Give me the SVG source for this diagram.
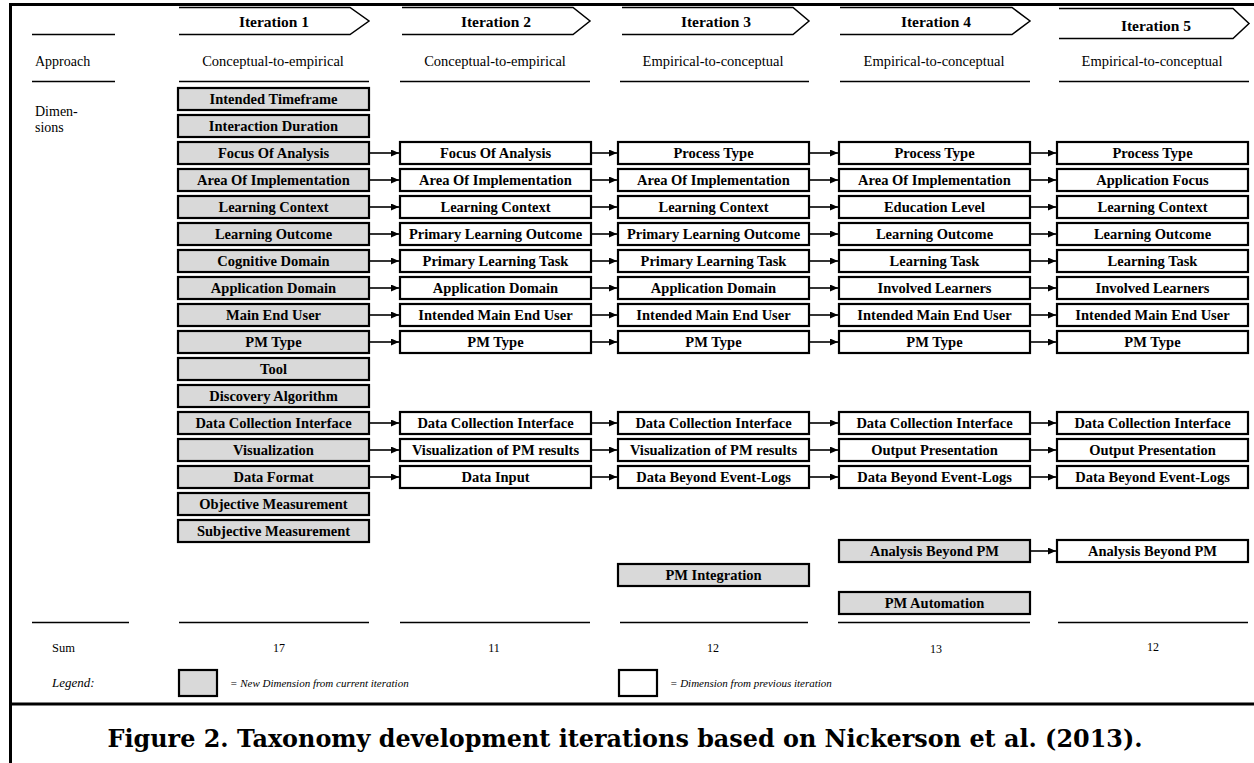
<svg xmlns="http://www.w3.org/2000/svg" width="1254" height="763" viewBox="0 0 1254 763">
<style>
.bx{stroke:#000;stroke-width:2.2}
.g{fill:#d9d9d9}
.w{fill:#fff}
.lb{font-family:"Liberation Serif",serif;font-weight:bold;font-size:14.5px;text-anchor:middle;fill:#000}
.it{font-family:"Liberation Serif",serif;font-weight:bold;font-size:15.5px;text-anchor:middle;fill:#000}
.ap{font-family:"Liberation Serif",serif;font-size:14.5px;text-anchor:middle;fill:#000}
.sd{font-family:"Liberation Serif",serif;font-size:14px;fill:#000}
.sm{font-family:"Liberation Serif",serif;font-size:12px;text-anchor:middle;fill:#000}
.lg{font-family:"Liberation Serif",serif;font-style:italic;font-size:11px;fill:#000}
.cap{font-family:"DejaVu Serif",serif;font-weight:bold;font-size:24px;text-anchor:middle;fill:#000}
.hd{fill:none;stroke:#000;stroke-width:1.5}
.rl{stroke:#000;stroke-width:1.3}
.fr{stroke:#000;stroke-width:3}
.cn{stroke:#000;stroke-width:1.6;fill:none}
</style>
<defs>
<marker id="ah" markerUnits="userSpaceOnUse" markerWidth="9" markerHeight="8" refX="8" refY="3.5" orient="auto">
<path d="M0,0 L8,3.5 L0,7 z" fill="#000"/>
</marker>
</defs>
<rect x="0" y="0" width="1254" height="763" fill="#fff"/>
<g id="frame">
<line class="fr" x1="9" y1="4.5" x2="1254" y2="4.5"/>
<line class="fr" x1="10.5" y1="3" x2="10.5" y2="763"/>
<line class="fr" x1="9" y1="704" x2="1254" y2="704"/>
</g>
<g id="headers">
<polyline class="hd" points="179,7.5 350,7.5 369,21 350,34.5 179,34.5"/>
<text class="it" x="274" y="27">Iteration 1</text>
<polyline class="hd" points="402,7.5 573,7.5 590,21 573,34.5 402,34.5"/>
<text class="it" x="496" y="27">Iteration 2</text>
<polyline class="hd" points="622,7.5 793,7.5 809,21 793,34.5 622,34.5"/>
<text class="it" x="716" y="27">Iteration 3</text>
<polyline class="hd" points="840,7.5 1012,7.5 1030,21 1012,34.5 840,34.5"/>
<text class="it" x="936" y="27">Iteration 4</text>
<polyline class="hd" points="1059,8.5 1233,8.5 1249,23.5 1233,38.5 1059,38.5"/>
<text class="it" x="1156" y="31">Iteration 5</text>
</g>
<g id="rules">
<line class="rl" x1="32" y1="34.5" x2="115" y2="34.5"/>
<line class="rl" x1="32" y1="81.5" x2="115" y2="81.5"/>
<line class="rl" x1="179" y1="81.5" x2="369" y2="81.5"/>
<line class="rl" x1="400" y1="81.5" x2="590" y2="81.5"/>
<line class="rl" x1="620" y1="81.5" x2="809" y2="81.5"/>
<line class="rl" x1="840" y1="81.5" x2="1030" y2="81.5"/>
<line class="rl" x1="1059" y1="81.5" x2="1249" y2="81.5"/>
<line class="rl" x1="32" y1="622.5" x2="129" y2="622.5"/>
<line class="rl" x1="179" y1="622.5" x2="369" y2="622.5"/>
<line class="rl" x1="400" y1="622.5" x2="590" y2="622.5"/>
<line class="rl" x1="620" y1="622.5" x2="808" y2="622.5"/>
<line class="rl" x1="838" y1="622.5" x2="1030" y2="622.5"/>
<line class="rl" x1="1058" y1="622.5" x2="1248" y2="622.5"/>
</g>
<g id="row-labels">
<text class="sd" x="35" y="66">Approach</text>
<text class="ap" x="273" y="66">Conceptual-to-empirical</text>
<text class="ap" x="495" y="66">Conceptual-to-empirical</text>
<text class="ap" x="713" y="66">Empirical-to-conceptual</text>
<text class="ap" x="934" y="66">Empirical-to-conceptual</text>
<text class="ap" x="1152" y="66">Empirical-to-conceptual</text>
<text class="sd" x="35" y="116">Dimen-</text>
<text class="sd" x="35" y="132">sions</text>
<text class="sd" x="52" y="652" style="font-size:12.5px">Sum</text>
<text class="sm" x="279" y="652">17</text>
<text class="sm" x="494" y="652">11</text>
<text class="sm" x="713" y="652">12</text>
<text class="sm" x="936" y="653">13</text>
<text class="sm" x="1153" y="651">12</text>
</g>
<g id="col1">
<g id="c1-intended-timeframe"><rect class="bx g" x="178" y="88" width="191" height="22"/><text class="lb" x="273.5" y="104">Intended Timeframe</text></g>
<g id="c1-interaction-duration"><rect class="bx g" x="178" y="115" width="191" height="22"/><text class="lb" x="273.5" y="131">Interaction Duration</text></g>
<g id="c1-focus"><rect class="bx g" x="178" y="142" width="191" height="22"/><text class="lb" x="273.5" y="158">Focus Of Analysis</text></g>
<g id="c1-area"><rect class="bx g" x="178" y="169" width="191" height="22"/><text class="lb" x="273.5" y="185">Area Of Implementation</text></g>
<g id="c1-context"><rect class="bx g" x="178" y="196" width="191" height="22"/><text class="lb" x="273.5" y="212">Learning Context</text></g>
<g id="c1-outcome"><rect class="bx g" x="178" y="223" width="191" height="22"/><text class="lb" x="273.5" y="239">Learning Outcome</text></g>
<g id="c1-cognitive"><rect class="bx g" x="178" y="250" width="191" height="22"/><text class="lb" x="273.5" y="266">Cognitive Domain</text></g>
<g id="c1-appdomain"><rect class="bx g" x="178" y="277" width="191" height="22"/><text class="lb" x="273.5" y="293">Application Domain</text></g>
<g id="c1-enduser"><rect class="bx g" x="178" y="304" width="191" height="22"/><text class="lb" x="273.5" y="320">Main End User</text></g>
<g id="c1-pmtype"><rect class="bx g" x="178" y="331" width="191" height="22"/><text class="lb" x="273.5" y="347">PM Type</text></g>
<g id="c1-tool"><rect class="bx g" x="178" y="358" width="191" height="22"/><text class="lb" x="273.5" y="374">Tool</text></g>
<g id="c1-discovery"><rect class="bx g" x="178" y="385" width="191" height="22"/><text class="lb" x="273.5" y="401">Discovery Algorithm</text></g>
<g id="c1-dci"><rect class="bx g" x="178" y="412" width="191" height="22"/><text class="lb" x="273.5" y="428">Data Collection Interface</text></g>
<g id="c1-vis"><rect class="bx g" x="178" y="439" width="191" height="22"/><text class="lb" x="273.5" y="455">Visualization</text></g>
<g id="c1-format"><rect class="bx g" x="178" y="466" width="191" height="22"/><text class="lb" x="273.5" y="482">Data Format</text></g>
<g id="c1-objective"><rect class="bx g" x="178" y="493" width="191" height="22"/><text class="lb" x="273.5" y="509">Objective Measurement</text></g>
<g id="c1-subjective"><rect class="bx g" x="178" y="520" width="191" height="22"/><text class="lb" x="273.5" y="536">Subjective Measurement</text></g>
</g>
<g id="col2">
<g id="c2-focus"><rect class="bx w" x="400" y="142" width="191" height="22"/><text class="lb" x="495.5" y="158">Focus Of Analysis</text></g>
<g id="c2-area"><rect class="bx w" x="400" y="169" width="191" height="22"/><text class="lb" x="495.5" y="185">Area Of Implementation</text></g>
<g id="c2-context"><rect class="bx w" x="400" y="196" width="191" height="22"/><text class="lb" x="495.5" y="212">Learning Context</text></g>
<g id="c2-outcome"><rect class="bx w" x="400" y="223" width="191" height="22"/><text class="lb" x="495.5" y="239">Primary Learning Outcome</text></g>
<g id="c2-task"><rect class="bx w" x="400" y="250" width="191" height="22"/><text class="lb" x="495.5" y="266">Primary Learning Task</text></g>
<g id="c2-appdomain"><rect class="bx w" x="400" y="277" width="191" height="22"/><text class="lb" x="495.5" y="293">Application Domain</text></g>
<g id="c2-enduser"><rect class="bx w" x="400" y="304" width="191" height="22"/><text class="lb" x="495.5" y="320">Intended Main End User</text></g>
<g id="c2-pmtype"><rect class="bx w" x="400" y="331" width="191" height="22"/><text class="lb" x="495.5" y="347">PM Type</text></g>
<g id="c2-dci"><rect class="bx w" x="400" y="412" width="191" height="22"/><text class="lb" x="495.5" y="428">Data Collection Interface</text></g>
<g id="c2-vis"><rect class="bx w" x="400" y="439" width="191" height="22"/><text class="lb" x="495.5" y="455">Visualization of PM results</text></g>
<g id="c2-input"><rect class="bx w" x="400" y="466" width="191" height="22"/><text class="lb" x="495.5" y="482">Data Input</text></g>
</g>
<g id="col3">
<g id="c3-process"><rect class="bx w" x="618" y="142" width="191" height="22"/><text class="lb" x="713.5" y="158">Process Type</text></g>
<g id="c3-area"><rect class="bx w" x="618" y="169" width="191" height="22"/><text class="lb" x="713.5" y="185">Area Of Implementation</text></g>
<g id="c3-context"><rect class="bx w" x="618" y="196" width="191" height="22"/><text class="lb" x="713.5" y="212">Learning Context</text></g>
<g id="c3-outcome"><rect class="bx w" x="618" y="223" width="191" height="22"/><text class="lb" x="713.5" y="239">Primary Learning Outcome</text></g>
<g id="c3-task"><rect class="bx w" x="618" y="250" width="191" height="22"/><text class="lb" x="713.5" y="266">Primary Learning Task</text></g>
<g id="c3-appdomain"><rect class="bx w" x="618" y="277" width="191" height="22"/><text class="lb" x="713.5" y="293">Application Domain</text></g>
<g id="c3-enduser"><rect class="bx w" x="618" y="304" width="191" height="22"/><text class="lb" x="713.5" y="320">Intended Main End User</text></g>
<g id="c3-pmtype"><rect class="bx w" x="618" y="331" width="191" height="22"/><text class="lb" x="713.5" y="347">PM Type</text></g>
<g id="c3-dci"><rect class="bx w" x="618" y="412" width="191" height="22"/><text class="lb" x="713.5" y="428">Data Collection Interface</text></g>
<g id="c3-vis"><rect class="bx w" x="618" y="439" width="191" height="22"/><text class="lb" x="713.5" y="455">Visualization of PM results</text></g>
<g id="c3-beyond"><rect class="bx w" x="618" y="466" width="191" height="22"/><text class="lb" x="713.5" y="482">Data Beyond Event-Logs</text></g>
<g id="c3-integration"><rect class="bx g" x="618" y="564" width="191" height="22"/><text class="lb" x="713.5" y="580">PM Integration</text></g>
</g>
<g id="col4">
<g id="c4-process"><rect class="bx w" x="839" y="142" width="191" height="22"/><text class="lb" x="934.5" y="158">Process Type</text></g>
<g id="c4-area"><rect class="bx w" x="839" y="169" width="191" height="22"/><text class="lb" x="934.5" y="185">Area Of Implementation</text></g>
<g id="c4-edu"><rect class="bx w" x="839" y="196" width="191" height="22"/><text class="lb" x="934.5" y="212">Education Level</text></g>
<g id="c4-outcome"><rect class="bx w" x="839" y="223" width="191" height="22"/><text class="lb" x="934.5" y="239">Learning Outcome</text></g>
<g id="c4-task"><rect class="bx w" x="839" y="250" width="191" height="22"/><text class="lb" x="934.5" y="266">Learning Task</text></g>
<g id="c4-learners"><rect class="bx w" x="839" y="277" width="191" height="22"/><text class="lb" x="934.5" y="293">Involved Learners</text></g>
<g id="c4-enduser"><rect class="bx w" x="839" y="304" width="191" height="22"/><text class="lb" x="934.5" y="320">Intended Main End User</text></g>
<g id="c4-pmtype"><rect class="bx w" x="839" y="331" width="191" height="22"/><text class="lb" x="934.5" y="347">PM Type</text></g>
<g id="c4-dci"><rect class="bx w" x="839" y="412" width="191" height="22"/><text class="lb" x="934.5" y="428">Data Collection Interface</text></g>
<g id="c4-output"><rect class="bx w" x="839" y="439" width="191" height="22"/><text class="lb" x="934.5" y="455">Output Presentation</text></g>
<g id="c4-beyond"><rect class="bx w" x="839" y="466" width="191" height="22"/><text class="lb" x="934.5" y="482">Data Beyond Event-Logs</text></g>
<g id="c4-analysis"><rect class="bx g" x="839" y="540" width="191" height="22"/><text class="lb" x="934.5" y="556">Analysis Beyond PM</text></g>
<g id="c4-automation"><rect class="bx g" x="839" y="592" width="191" height="22"/><text class="lb" x="934.5" y="608">PM Automation</text></g>
</g>
<g id="col5">
<g id="c5-process"><rect class="bx w" x="1057" y="142" width="191" height="22"/><text class="lb" x="1152.5" y="158">Process Type</text></g>
<g id="c5-appfocus"><rect class="bx w" x="1057" y="169" width="191" height="22"/><text class="lb" x="1152.5" y="185">Application Focus</text></g>
<g id="c5-context"><rect class="bx w" x="1057" y="196" width="191" height="22"/><text class="lb" x="1152.5" y="212">Learning Context</text></g>
<g id="c5-outcome"><rect class="bx w" x="1057" y="223" width="191" height="22"/><text class="lb" x="1152.5" y="239">Learning Outcome</text></g>
<g id="c5-task"><rect class="bx w" x="1057" y="250" width="191" height="22"/><text class="lb" x="1152.5" y="266">Learning Task</text></g>
<g id="c5-learners"><rect class="bx w" x="1057" y="277" width="191" height="22"/><text class="lb" x="1152.5" y="293">Involved Learners</text></g>
<g id="c5-enduser"><rect class="bx w" x="1057" y="304" width="191" height="22"/><text class="lb" x="1152.5" y="320">Intended Main End User</text></g>
<g id="c5-pmtype"><rect class="bx w" x="1057" y="331" width="191" height="22"/><text class="lb" x="1152.5" y="347">PM Type</text></g>
<g id="c5-dci"><rect class="bx w" x="1057" y="412" width="191" height="22"/><text class="lb" x="1152.5" y="428">Data Collection Interface</text></g>
<g id="c5-output"><rect class="bx w" x="1057" y="439" width="191" height="22"/><text class="lb" x="1152.5" y="455">Output Presentation</text></g>
<g id="c5-beyond"><rect class="bx w" x="1057" y="466" width="191" height="22"/><text class="lb" x="1152.5" y="482">Data Beyond Event-Logs</text></g>
<g id="c5-analysis"><rect class="bx w" x="1057" y="540" width="191" height="22"/><text class="lb" x="1152.5" y="556">Analysis Beyond PM</text></g>
</g>
<g id="connectors">
<line class="cn" marker-end="url(#ah)" x1="369" y1="153" x2="399" y2="153"/>
<line class="cn" marker-end="url(#ah)" x1="369" y1="180" x2="399" y2="180"/>
<line class="cn" marker-end="url(#ah)" x1="369" y1="207" x2="399" y2="207"/>
<line class="cn" marker-end="url(#ah)" x1="369" y1="234" x2="399" y2="234"/>
<line class="cn" marker-end="url(#ah)" x1="369" y1="261" x2="399" y2="261"/>
<line class="cn" marker-end="url(#ah)" x1="369" y1="288" x2="399" y2="288"/>
<line class="cn" marker-end="url(#ah)" x1="369" y1="315" x2="399" y2="315"/>
<line class="cn" marker-end="url(#ah)" x1="369" y1="342" x2="399" y2="342"/>
<line class="cn" marker-end="url(#ah)" x1="369" y1="423" x2="399" y2="423"/>
<line class="cn" marker-end="url(#ah)" x1="369" y1="450" x2="399" y2="450"/>
<line class="cn" marker-end="url(#ah)" x1="369" y1="477" x2="399" y2="477"/>
<line class="cn" marker-end="url(#ah)" x1="591" y1="153" x2="617" y2="153"/>
<line class="cn" marker-end="url(#ah)" x1="591" y1="180" x2="617" y2="180"/>
<line class="cn" marker-end="url(#ah)" x1="591" y1="207" x2="617" y2="207"/>
<line class="cn" marker-end="url(#ah)" x1="591" y1="234" x2="617" y2="234"/>
<line class="cn" marker-end="url(#ah)" x1="591" y1="261" x2="617" y2="261"/>
<line class="cn" marker-end="url(#ah)" x1="591" y1="288" x2="617" y2="288"/>
<line class="cn" marker-end="url(#ah)" x1="591" y1="315" x2="617" y2="315"/>
<line class="cn" marker-end="url(#ah)" x1="591" y1="342" x2="617" y2="342"/>
<line class="cn" marker-end="url(#ah)" x1="591" y1="423" x2="617" y2="423"/>
<line class="cn" marker-end="url(#ah)" x1="591" y1="450" x2="617" y2="450"/>
<line class="cn" marker-end="url(#ah)" x1="591" y1="477" x2="617" y2="477"/>
<line class="cn" marker-end="url(#ah)" x1="809" y1="153" x2="838" y2="153"/>
<line class="cn" marker-end="url(#ah)" x1="809" y1="180" x2="838" y2="180"/>
<line class="cn" marker-end="url(#ah)" x1="809" y1="207" x2="838" y2="207"/>
<line class="cn" marker-end="url(#ah)" x1="809" y1="234" x2="838" y2="234"/>
<line class="cn" marker-end="url(#ah)" x1="809" y1="261" x2="838" y2="261"/>
<line class="cn" marker-end="url(#ah)" x1="809" y1="288" x2="838" y2="288"/>
<line class="cn" marker-end="url(#ah)" x1="809" y1="315" x2="838" y2="315"/>
<line class="cn" marker-end="url(#ah)" x1="809" y1="342" x2="838" y2="342"/>
<line class="cn" marker-end="url(#ah)" x1="809" y1="423" x2="838" y2="423"/>
<line class="cn" marker-end="url(#ah)" x1="809" y1="450" x2="838" y2="450"/>
<line class="cn" marker-end="url(#ah)" x1="809" y1="477" x2="838" y2="477"/>
<line class="cn" marker-end="url(#ah)" x1="1030" y1="153" x2="1056" y2="153"/>
<line class="cn" marker-end="url(#ah)" x1="1030" y1="180" x2="1056" y2="180"/>
<line class="cn" marker-end="url(#ah)" x1="1030" y1="207" x2="1056" y2="207"/>
<line class="cn" marker-end="url(#ah)" x1="1030" y1="234" x2="1056" y2="234"/>
<line class="cn" marker-end="url(#ah)" x1="1030" y1="261" x2="1056" y2="261"/>
<line class="cn" marker-end="url(#ah)" x1="1030" y1="288" x2="1056" y2="288"/>
<line class="cn" marker-end="url(#ah)" x1="1030" y1="315" x2="1056" y2="315"/>
<line class="cn" marker-end="url(#ah)" x1="1030" y1="342" x2="1056" y2="342"/>
<line class="cn" marker-end="url(#ah)" x1="1030" y1="423" x2="1056" y2="423"/>
<line class="cn" marker-end="url(#ah)" x1="1030" y1="450" x2="1056" y2="450"/>
<line class="cn" marker-end="url(#ah)" x1="1030" y1="477" x2="1056" y2="477"/>
<line class="cn" marker-end="url(#ah)" x1="1030" y1="551" x2="1056" y2="551"/>
</g>
<g id="legend">
<text class="lg" x="52" y="687" style="font-size:13px">Legend:</text>
<g id="legend-new"><rect class="bx g" x="179" y="670" width="38" height="26"/><text class="lg" x="230" y="687">= New Dimension from current iteration</text></g>
<g id="legend-prev"><rect class="bx w" x="619" y="670" width="38" height="26"/><text class="lg" x="670" y="687">= Dimension from previous iteration</text></g>
</g>
<g id="caption">
<text class="cap" x="625" y="747" textLength="1035" lengthAdjust="spacingAndGlyphs">Figure 2. Taxonomy development iterations based on Nickerson et al. (2013).</text>
</g>
</svg>
